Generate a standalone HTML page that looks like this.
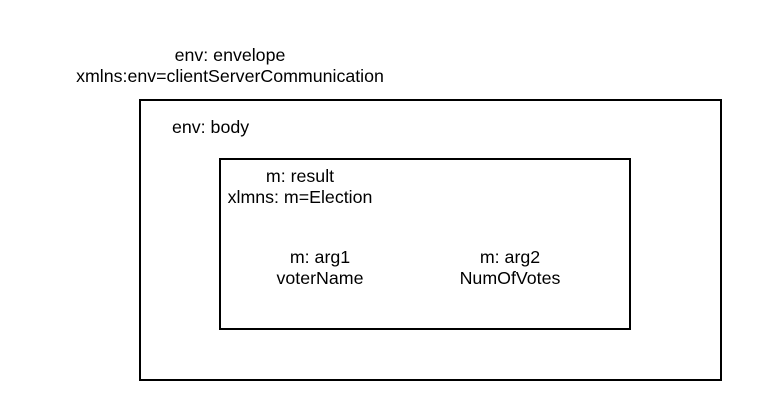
<!DOCTYPE html>
<html><head><style>
body{margin:0;width:760px;height:420px;background:#fff;position:relative;font-family:"Liberation Sans",sans-serif;font-size:17.8px;color:#000;}
.b{position:absolute;border:2px solid #000;box-sizing:border-box;}
.t{position:absolute;text-align:center;line-height:21px;white-space:nowrap;}
</style></head><body>
<div class="b" style="left:139px;top:99px;width:583px;height:282px"></div>
<div class="b" style="left:219px;top:158px;width:412px;height:172px"></div>
<div class="t" style="left:30px;top:45px;width:400px">env: envelope<br>xmlns:env=clientServerCommunication</div>
<div class="t" style="left:172px;top:117px">env: body</div>
<div class="t" style="left:200px;top:166px;width:200px">m: result<br>xlmns: m=Election</div>
<div class="t" style="left:240px;top:247px;width:160px">m: arg1<br>voterName</div>
<div class="t" style="left:430px;top:247px;width:160px">m: arg2<br>NumOfVotes</div>
</body></html>
